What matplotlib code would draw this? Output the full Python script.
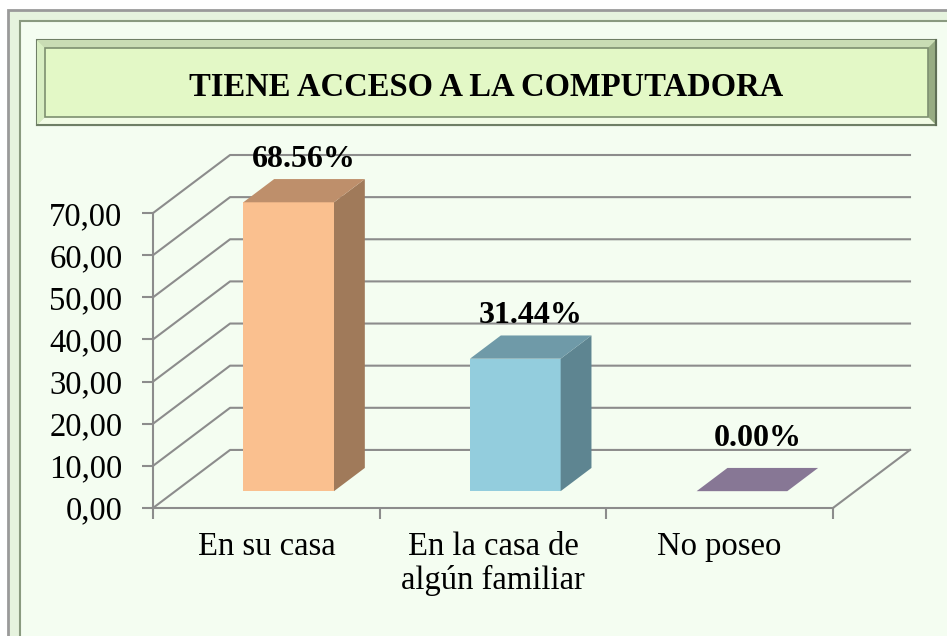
import matplotlib
matplotlib.use("Agg")
import matplotlib.pyplot as plt
from matplotlib.patches import Polygon, Rectangle
from matplotlib.ticker import FuncFormatter, FixedLocator

# datos del grafico
categorias = ["En su casa", "En la casa de\nalgún familiar", "No poseo"]
valores = [68.56, 31.44, 0.00]
etiquetas = ["68.56%", "31.44%", "0.00%"]
titulo = "TIENE ACCESO A LA COMPUTADORA"
yticks = [0, 10, 20, 30, 40, 50, 60, 70]

col_frente = ["#FAC08F", "#93CDDD", "#8B7D9B"]
col_arriba = ["#BE8F6B", "#6F9AA8", "#877795"]
col_lado = ["#A07A5A", "#5E8591", "#6E6180"]

# perspectiva oblicua (profundidad z de 0 a 1)
KX = 0.34
KY = 13.78
Z0, Z1 = 0.29, 0.69
ANCHO = 0.4
GRIS = "#8C8C8C"
FONDO = "#F4FDF1"
SERIF = "Liberation Serif"


def proy(x, y, z):
    return (x + z * KX, y + z * KY)


fig = plt.figure(figsize=(9.47, 6.36), dpi=100)
fig.patch.set_facecolor("white")

# capa de decoracion en pixeles
deco = fig.add_axes([0, 0, 1, 1])
deco.set_xlim(0, 947)
deco.set_ylim(636, 0)
deco.axis("off")

# marco exterior
deco.add_patch(Rectangle((8, 10), 960, 640, facecolor="#E6F3DE", edgecolor="#9A9A9A", lw=2))
deco.add_patch(Rectangle((20, 21), 960, 640, facecolor=FONDO, edgecolor="#8A9A80", lw=1.5))

# caja del titulo con bisel
x0, y0, x1, y1 = 37, 40, 936, 125
b = 8
deco.add_patch(Rectangle((x0, y0), x1 - x0, y1 - y0, facecolor="#B9CDA2", edgecolor="#6F7F66", lw=1.5))
deco.add_patch(Polygon([(x0, y0), (x1, y0), (x1 - b, y0 + b), (x0 + b, y0 + b)], facecolor="#C9DCB4", lw=0))
deco.add_patch(Polygon([(x0, y0), (x0 + b, y0 + b), (x0 + b, y1 - b), (x0, y1)], facecolor="#D8EEC2", lw=0))
deco.add_patch(Polygon([(x1, y0), (x1, y1), (x1 - b, y1 - b), (x1 - b, y0 + b)], facecolor="#97AC83", lw=0))
deco.add_patch(Polygon([(x0, y1), (x1, y1), (x1 - b, y1 - b), (x0 + b, y1 - b)], facecolor="#F2FCE6", lw=0))
deco.add_patch(Rectangle((x0 + b, y0 + b), x1 - x0 - 2 * b, y1 - y0 - 2 * b,
                         facecolor="#E3F8C6", edgecolor="#7E9070", lw=1.2))
deco.plot([x0, x1], [y1, y1], color="#6F7F66", lw=1.5)
deco.plot([x1, x1], [y0, y1], color="#5F6F56", lw=1.5)
deco.text((x0 + x1) / 2, 87, titulo, ha="center", va="center",
          fontsize=23.5, fontweight="bold", family=SERIF, color="black")

# ejes del grafico
n = len(categorias)
ax = fig.add_axes([153 / 947, 128 / 636, 757 / 947, 353 / 636])
ax.set_xlim(0, n + KX)
ax.set_ylim(0, yticks[-1] + KY)
ax.patch.set_alpha(0)
for s in ["top", "right"]:
    ax.spines[s].set_visible(False)
ax.spines["left"].set_bounds(0, yticks[-1])
ax.spines["bottom"].set_bounds(0, n)
for s in ["left", "bottom"]:
    ax.spines[s].set_color(GRIS)
    ax.spines[s].set_linewidth(1.5)

ax.set_yticks(yticks)
ax.yaxis.set_major_formatter(FuncFormatter(lambda v, p: f"{v:.2f}".replace(".", ",")))
ax.tick_params(axis="y", length=8, width=1.5, color=GRIS, pad=14, labelsize=23.5)
ax.xaxis.set_major_locator(FixedLocator(range(n + 1)))
ax.xaxis.set_minor_locator(FixedLocator([i + 0.5 for i in range(n)]))
ax.set_xticklabels([""] * (n + 1))
ax.set_xticklabels(categorias, minor=True)
ax.tick_params(axis="x", which="major", length=8, width=1.5, color=GRIS)
ax.tick_params(axis="x", which="minor", length=0, pad=17, labelsize=23.5)
for t in ax.get_yticklabels() + ax.get_xticklabels(minor=True):
    t.set_family(SERIF)
for t in ax.get_xticklabels(minor=True):
    t.set_linespacing(1.1)

# paredes y lineas de cuadricula
for v in yticks:
    a = proy(0, v, 0)
    b1 = proy(0, v, 1)
    c = proy(n, v, 1)
    ax.plot([a[0], b1[0], c[0]], [a[1], b1[1], c[1]], color=GRIS, lw=1.5, clip_on=False, zorder=1)
a = proy(n, 0, 0)
c = proy(n, 0, 1)
ax.plot([a[0], c[0]], [a[1], c[1]], color=GRIS, lw=1.5, clip_on=False, zorder=1)

# barras 3D
for i, v in enumerate(valores):
    cx = i + 0.5
    xl, xr = cx - ANCHO / 2, cx + ANCHO / 2
    frente = [proy(xl, 0, Z0), proy(xr, 0, Z0), proy(xr, v, Z0), proy(xl, v, Z0)]
    lado = [proy(xr, 0, Z0), proy(xr, 0, Z1), proy(xr, v, Z1), proy(xr, v, Z0)]
    arriba = [proy(xl, v, Z0), proy(xr, v, Z0), proy(xr, v, Z1), proy(xl, v, Z1)]
    if v > 0:
        ax.add_patch(Polygon(frente, facecolor=col_frente[i], lw=0, zorder=3))
        ax.add_patch(Polygon(lado, facecolor=col_lado[i], lw=0, zorder=3))
    ax.add_patch(Polygon(arriba, facecolor=col_arriba[i], lw=0, zorder=3))
    py = proy(cx, v, Z1)[1]
    px = proy(cx, v, (Z0 + Z1) / 2)[0]
    ax.annotate(etiquetas[i], (px, py), xytext=(0, 9 if v > 0 else 16), textcoords="offset points",
                ha="center", va="baseline", fontsize=23, fontweight="bold",
                family=SERIF, annotation_clip=False, zorder=4)

fig.savefig("out.png", dpi=100, facecolor=fig.get_facecolor())
